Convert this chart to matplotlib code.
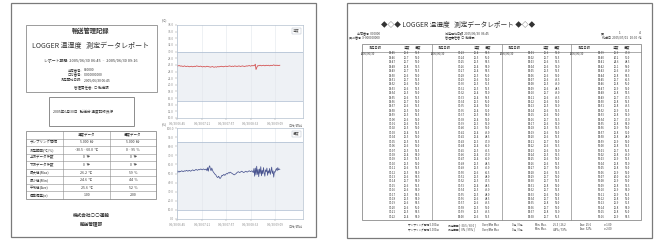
import numpy as np
import matplotlib.pyplot as plt
from matplotlib.patches import Rectangle

plt.rcParams['font.family'] = ['Noto Sans CJK JP', 'DejaVu Sans']

W, H = 656, 242

# logger readings, one per minute starting 2005/06/30 06:45
start_min = 6 * 60 + 45
temp = [25.6, 25.7, 25.7, 25.8, 25.7, 25.6, 25.7, 25.6, 25.6, 25.5, 25.6, 25.7, 25.6, 25.5, 25.5, 25.6,
        25.6, 25.5, 25.4, 25.5, 25.5, 25.6, 25.5, 25.4, 25.5, 25.5, 25.6, 25.5, 25.6, 25.7, 25.6, 25.6,
        25.5, 25.5, 25.6, 25.6, 25.5, 25.4, 25.4, 25.5, 25.5, 25.4, 25.4, 25.5, 25.6, 25.5, 25.5, 25.4,
        25.4, 25.3, 25.4, 25.4, 25.5, 25.4, 25.3, 25.3, 25.4, 25.4, 25.3, 25.4, 25.5, 25.4, 25.4, 25.5,
        25.5, 25.6, 25.5, 25.5, 25.4, 25.5, 25.5, 25.6, 25.6, 25.5, 25.5, 25.6, 25.6, 25.7, 25.6, 25.6,
        25.5, 25.6, 25.6, 25.5, 25.6, 25.7, 25.6, 25.6, 25.5, 25.6, 25.6, 25.7, 25.6, 25.5, 25.6, 25.6,
        25.7, 25.6, 25.6, 25.5, 25.6, 25.6, 25.7, 25.6, 25.7, 25.7, 25.8, 25.7, 25.6, 25.7, 25.8, 25.7,
        25.8, 25.7, 25.9, 26.2, 24.6, 25.1, 25.6, 25.8, 25.7, 25.8, 25.9, 25.8, 25.7, 25.8, 25.8, 25.9,
        25.8, 25.7, 25.8, 25.9, 25.8, 25.8, 25.9, 25.8, 25.7, 25.8, 25.9, 25.8, 25.8, 25.9, 26.0, 25.9,
        25.8, 25.9, 25.9, 25.8, 25.9, 25.8, 25.8, 25.9]
hum = [50.5, 53.0, 52.0, 51.5, 52.5, 52.0, 52.5, 53.0, 52.5, 52.0, 52.5, 53.0, 52.5, 53.0, 53.5, 53.0,
       52.5, 53.0, 53.5, 53.0, 52.5, 53.0, 53.5, 54.0, 53.5, 53.0, 53.5, 54.0, 54.5, 54.0, 53.5, 54.0,
       54.5, 54.0, 54.5, 55.0, 54.5, 54.0, 54.5, 55.0, 54.5, 54.0, 54.5, 55.0, 53.0, 56.5, 52.5, 57.0,
       58.5, 55.0, 53.0, 56.0, 54.0, 52.0, 51.0, 50.0, 49.0, 48.5, 47.0, 46.0, 45.5, 47.0, 46.0, 44.5,
       45.0, 46.5, 48.0, 47.5, 48.5, 49.0, 48.0, 48.5, 49.5, 50.0, 49.5, 50.5, 51.0, 50.5, 51.5, 51.0,
       50.5, 50.0, 49.5, 49.0, 48.5, 49.0, 49.5, 50.0, 51.0, 51.5, 52.0, 51.5, 51.0, 51.5, 52.0, 52.5,
       52.0, 51.5, 51.0, 51.5, 52.0, 52.5, 52.0, 51.5, 52.0, 52.5, 53.0, 52.5, 52.0, 52.5, 53.0, 52.0,
       51.0, 55.5, 47.0, 56.0, 48.5, 58.0, 49.0, 54.5, 46.5, 55.0, 50.0, 57.5, 47.5, 53.5, 49.5, 56.5,
       51.0, 47.0, 54.0, 52.0, 56.0, 48.0, 53.0, 50.5, 55.5, 49.0, 52.5, 57.0, 50.0, 53.0, 46.0, 52.0,
       51.5, 54.0, 55.5, 53.0, 56.5, 54.0, 55.0, 54.5]

temp_ticks = [10, 12, 14, 16, 18, 20, 22, 24, 26, 28, 30, 32, 34, 36, 38]
temp_limits = [15, 30]
hum_ticks = [0, 10, 20, 30, 40, 50, 60, 70, 80, 90, 100]
hum_limits = [10, 85]
time_ticks = [0, 36, 72, 108, 144]

# summary table on the first page
row_labels = ["", "サンプリング間隔", "測定範囲(℃/%)", "上限データ件数", "下限データ件数",
              "最大値(Max)", "最小値(Min)", "平均値(Ave)", "標準偏差(σ)"]
temp_col = ["温度データ", "5.000  秒", "-30.5 ~ 60.0  ℃", "0  件", "0  件",
            "26.2  ℃", "24.6  ℃", "25.6  ℃", "1.00"]
hum_col = ["湿度データ", "5.000  秒", "0 ~ 95  %", "0  件", "0  件",
           "59  %", "44  %", "52  %", "2.00"]


def hhmm(m):
    return f"{m // 60:02d}:{m % 60:02d}"


def box(ax, x0, y0, x1, y1, lw=0.6, ec='#8c8c8c'):
    ax.add_patch(Rectangle((x0, y0), x1 - x0, y1 - y0, fill=False, lw=lw, ec=ec))


def txt(ax, x, y, s, size=3, ha='center', **kw):
    ax.text(x, y, s, fontsize=size, ha=ha, va='center', color=kw.pop('color', '#333333'), **kw)


fig = plt.figure(figsize=(W / 100, H / 100), dpi=100)
page = fig.add_axes([0, 0, 1, 1])
page.set_xlim(0, W)
page.set_ylim(H, 0)
page.axis('off')

# ---- left page: report cover ----
box(page, 11, 3, 316, 237, lw=0.9, ec='#7a7a7a')
box(page, 26, 25, 157, 92)
txt(page, 91, 31, "輸送管理記録", size=4.5, weight='bold')
txt(page, 91, 46, "LOGGER 温湿度   測定データレポート", size=5)
txt(page, 91, 60, "レポート期間: 2005/06/30 06:45  ~  2005/06/30 09:16", size=2.8)
txt(page, 82, 70, "出荷番号:", size=2.4, ha='right')
txt(page, 84, 70, "000000", size=2.4, ha='left')
txt(page, 82, 75, "ロガ番号:", size=2.4, ha='right')
txt(page, 84, 75, "X-000000000", size=2.4, ha='left')
txt(page, 82, 80, "測定開始日時:", size=2.4, ha='right')
txt(page, 84, 80, "2005/06/30 06:45", size=2.4, ha='left')
txt(page, 91, 87, "管理責任者:  ○ 輸送課", size=2.5)

box(page, 49, 97, 134, 126, lw=0.7)
txt(page, 53, 112, "2005年6月30日   輸送分 温度記録良好", size=2.6, ha='left')

# summary table
tx0, tx1, ty0, ty1 = 26, 156, 131, 199
col_x = [tx0, 63, 110, tx1]
rh = (ty1 - ty0) / len(row_labels)
box(page, tx0, ty0, tx1, ty1, lw=0.6)
for i in range(1, len(row_labels)):
    page.plot([tx0, tx1], [ty0 + i * rh] * 2, color='#8c8c8c', lw=0.4)
for cx in col_x[1:-1]:
    page.plot([cx, cx], [ty0, ty1], color='#8c8c8c', lw=0.4)
for i, (lab, tv, hv) in enumerate(zip(row_labels, temp_col, hum_col)):
    yc = ty0 + (i + 0.5) * rh
    txt(page, 30, yc, lab, size=2.5, ha='left')
    txt(page, (col_x[1] + col_x[2]) / 2, yc, tv, size=2.5)
    txt(page, (col_x[2] + col_x[3]) / 2, yc, hv, size=2.5)

txt(page, 91, 215, "株式会社○○運輸", size=3.3, weight='bold')
txt(page, 91, 223.5, "輸送管理部", size=3.3, weight='bold')


# ---- left page: charts ----
def chart(x0, y0, x1, y1, vals, color, ylim, yticks, lims, unit, name, fmt):
    ax = fig.add_axes([x0 / W, 1 - y1 / H, (x1 - x0) / W, (y1 - y0) / H])
    minutes = np.arange(len(vals))
    ax.axhspan(lims[0], lims[1], color='#eef1f5', lw=0)
    for v in lims:
        ax.axhline(v, color='#a9b9cf', lw=0.5)
    ax.grid(axis='x', color='#e2e6ec', lw=0.4)
    ax.plot(minutes, vals, color=color, lw=0.55)
    ax.set_xlim(0, 185)
    ax.set_ylim(*ylim)
    ax.set_yticks(yticks)
    ax.set_yticklabels([fmt.format(t) for t in yticks])
    ax.set_xticks(time_ticks)
    ax.set_xticklabels(["06/30 " + hhmm(start_min + t) for t in time_ticks])
    ax.tick_params(labelsize=2.2, length=1.2, width=0.3, colors='#8a8a8a', pad=1)
    for s in ax.spines.values():
        s.set_color('#b3c0cf')
        s.set_linewidth(0.5)
    ax.text(0.975, 0.96, name, transform=ax.transAxes, fontsize=2.4, ha='right', va='top',
            color='#555555', bbox=dict(boxstyle='square,pad=0.3', fc='white', ec='#aab4c4', lw=0.3))
    ax.text(-0.125, 1.045, unit, transform=ax.transAxes, fontsize=2.3, ha='left', va='center', color='#777777')
    ax.text(1.0, -0.06, "日付/時刻", transform=ax.transAxes, fontsize=2.3, ha='right', va='top', color='#777777')
    return ax


chart(177, 25, 303, 118, temp, '#d24a4a', (10, 38), temp_ticks, temp_limits, "(℃)", "温度", "{:.1f}")
chart(177, 128, 303, 219, hum, '#4a5590', (0, 100), hum_ticks, hum_limits, "(%)", "湿度", "{:.1f}")

# ---- right page: data list ----
box(page, 347, 3, 652, 238, lw=0.9, ec='#7a7a7a')
txt(page, 458, 25, "◆◇◆ LOGGER 温湿度   測定データレポート ◆◇◆", size=4.8)
txt(page, 380, 33.3, "出荷番号  000000", size=2.2, ha='right')
txt(page, 380, 37.3, "ロガ番号  X-000000000", size=2.2, ha='right')
txt(page, 445, 33.3, "測定開始日時  2005/06/30  06:45", size=2.2, ha='left')
txt(page, 445, 37.3, "管理責任者  ○  輸送課", size=2.2, ha='left')
txt(page, 602, 33.3, "頁", size=2.2)
txt(page, 620, 33.3, "1", size=2.2)
txt(page, 640, 33.3, "4", size=2.2)
txt(page, 641, 37.3, "作成日  2005/07/01   10:00  作", size=2.2, ha='right')

gx = np.linspace(362, 641, 5)
top, head, bot = 44, 51.7, 220
box(page, gx[0], top, gx[-1], bot, lw=0.6)
page.plot([gx[0], gx[-1]], [head, head], color='#8c8c8c', lw=0.5)
for x in gx[1:-1]:
    page.plot([x, x], [top, bot], color='#8c8c8c', lw=0.5)

n_rows = 38
row_y = np.linspace(53.5, 216.7, n_rows)
for g in range(4):
    x = gx[g]
    txt(page, x + 13, 47.8, "測定日時", size=2.3)
    txt(page, x + 45, 47.8, "温度", size=2.3)
    txt(page, x + 56, 47.8, "湿度", size=2.3)
    for r in range(n_rows):
        k = g * n_rows + r
        if r == 0:
            txt(page, x + 6, row_y[r], "2005/06/30", size=2.0)
        txt(page, x + 30, row_y[r], hhmm(start_min + k), size=2.0)
        txt(page, x + 45, row_y[r], f"{temp[k]:.1f}", size=2.0)
        txt(page, x + 56, row_y[r], f"{hum[k]:.1f}", size=2.0)

summary = [
    ["サンプリング間隔 5.000秒", "測定範囲 [ -30.5 / 60.0 ]", "Over/Min Max", "0件 / 0件",
     "Min. Max.", "25.3 / 26.2", "Ave. 25.6", "σ 1.00"],
    ["サンプリング間隔 5.000秒", "測定範囲 [  0% / 95% ]", "Over/Min Max", "0件 / 0件",
     "Min. Max.", "44% / 59%", "Ave. 52%", "σ 2.00"],
]
sum_x = [408, 448, 482, 512, 535, 553, 580, 604]
for line, y in zip(summary, [225, 229.5]):
    for s, x in zip(line, sum_x):
        txt(page, x, y, s, size=1.9, ha='left')

fig.savefig("out.png", dpi=100, facecolor='white')
